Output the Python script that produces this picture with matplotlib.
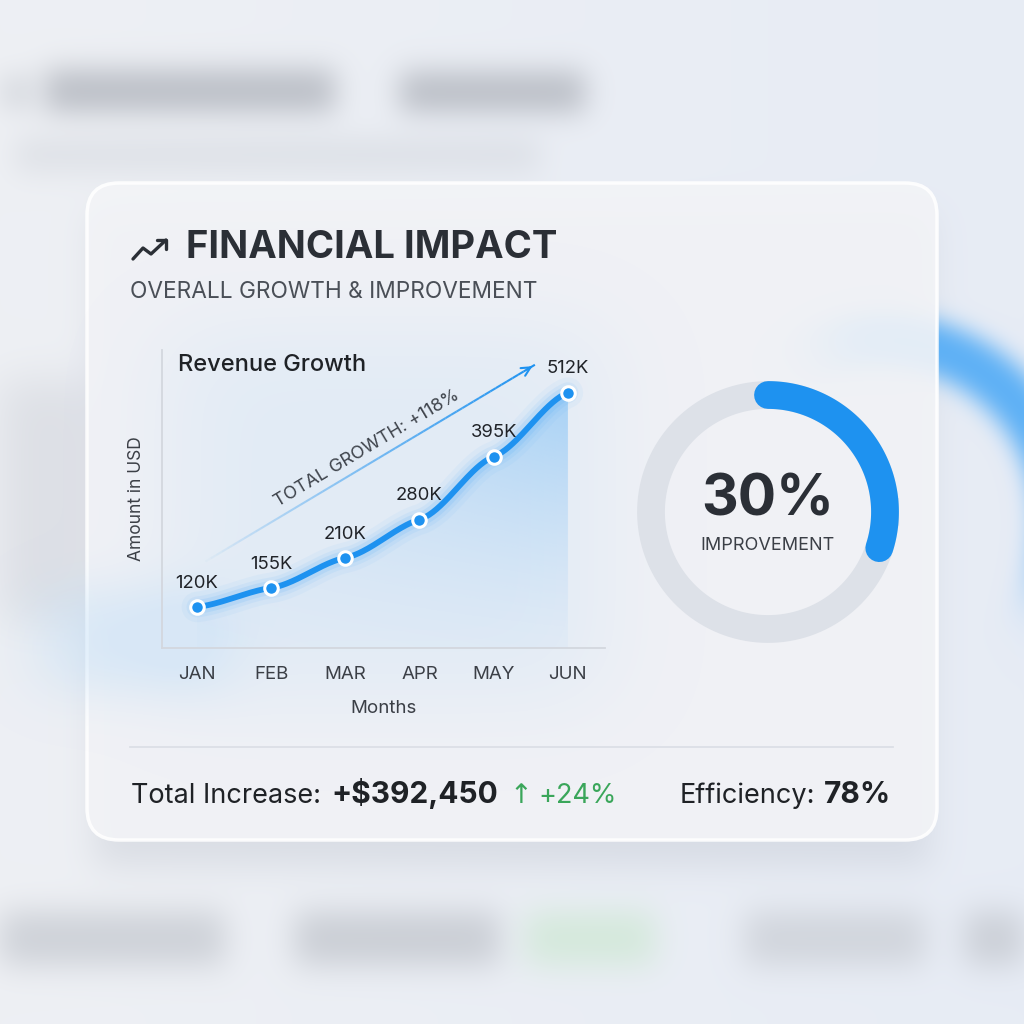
import math
import numpy as np
import matplotlib
matplotlib.use("Agg")
import matplotlib.pyplot as plt
from matplotlib.patches import FancyBboxPatch, Polygon
from matplotlib.collections import LineCollection
from matplotlib.colors import to_rgb

plt.rcParams['font.family'] = ['Inter', 'DejaVu Sans']

# ---- data ----
months = ["JAN", "FEB", "MAR", "APR", "MAY", "JUN"]
revenue_k = [120, 155, 210, 280, 395, 512]
point_labels = ["120K", "155K", "210K", "280K", "395K", "512K"]
growth_label = "TOTAL GROWTH: +118%"
improvement_pct = 30
total_increase = "+$392,450"
increase_pct = "+24%"
efficiency = "78%"

BLUE = "#1e92f0"
DARK = "#2b2f36"
GREEN = "#3aa65a"
W = H = 1024

fig = plt.figure(figsize=(10.24, 10.24), dpi=100)

# ---- blurred backdrop (pixel coordinates) ----
bg = fig.add_axes([0, 0, 1, 1], zorder=-10)
bg.set_xlim(0, W)
bg.set_ylim(H, 0)
bg.axis('off')

erf = np.vectorize(math.erf)
px = np.arange(W) + 0.5
py = np.arange(H) + 0.5


def band(c, a, b, s):
    return 0.5 * (erf((c - a) / s) - erf((c - b) / s))


img = np.zeros((H, W, 3))
top = np.array(to_rgb("#eef0f4"))
right = np.array(to_rgb("#e7ecf5"))
mix = np.clip(px / W, 0, 1)[None, :, None]
img[:] = top * (1 - mix) + right * mix


def blob(x0, x1, y0, y1, s, color, k):
    m = np.outer(band(py, y0, y1, s), band(px, x0, x1, s)) * k
    img[:] = img * (1 - m[..., None]) + np.array(to_rgb(color)) * m[..., None]


blob(45, 335, 70, 112, 20, "#b2b6be", 0.85)
blob(400, 585, 72, 112, 20, "#b2b6be", 0.85)
blob(0, 35, 75, 110, 18, "#c4c8cf", 0.5)
blob(15, 540, 138, 172, 20, "#cfd3da", 0.5)
blob(0, 95, 380, 620, 30, "#d0d3da", 0.55)
blob(0, 225, 912, 965, 22, "#c6cad1", 0.8)
blob(295, 500, 912, 965, 22, "#c2c6cd", 0.8)
blob(525, 655, 912, 965, 22, "#cfe8d5", 0.8)
blob(745, 925, 912, 965, 22, "#cbcfd6", 0.8)
blob(965, 1024, 912, 965, 22, "#c4c8cf", 0.8)
blob(95, 930, 215, 866, 24, "#aeb4c0", 0.3)

# blurred blue ring on the right, partly behind the card
cx, cy, r0 = 880, 520, 180
dx = px[None, :] - cx
dy = py[:, None] - cy
rr = np.sqrt(dx ** 2 + dy ** 2)
ring = 0.5 * (erf((rr - (r0 - 26)) / 16) - erf((rr - (r0 + 26)) / 16))
ang = np.degrees(np.arctan2(dy, dx))
ring *= 0.5 * (1 + erf((ang + 108) / 14)) * 0.5 * (1 - erf((ang - 18) / 16))
ring *= 0.85
img[:] = img * (1 - ring[..., None]) + np.array(to_rgb("#45a6f6")) * ring[..., None]

bg.imshow(img, extent=(0, W, H, 0), zorder=0, aspect='auto')

card = FancyBboxPatch((87, 183), 850, 657, boxstyle="round,pad=0,rounding_size=32",
                      fc="#f3f4f7", ec="white", lw=2.5, alpha=0.9, zorder=1)
bg.add_patch(card)

# frosted blue glow near the chart
glow = np.zeros((H, W, 4))
glow[..., :3] = to_rgb("#b9dbf8")
gm = np.outer(band(py, 590, 690, 35), band(px, 40, 220, 45))
gm += 0.6 * np.outer(band(py, 330, 700, 60), band(px, 170, 600, 70))
glow[..., 3] = np.clip(gm, 0, 1) * 0.42
bg.imshow(glow, extent=(0, W, H, 0), zorder=2, aspect='auto')

# header
ix = [133, 143, 151, 166]
iy = [259, 248, 254, 240]
bg.plot(ix, iy, color=DARK, lw=2.4, solid_capstyle='round', solid_joinstyle='round', zorder=3)
bg.plot([157, 166, 166], [240, 240, 249], color=DARK, lw=2.4,
        solid_capstyle='round', solid_joinstyle='round', zorder=3)
bg.text(186, 248, "FINANCIAL IMPACT", fontsize=27.5, fontweight='bold', color=DARK,
        va='center', ha='left', zorder=3)
bg.text(130, 292, "OVERALL GROWTH & IMPROVEMENT", fontsize=16.3, color="#4a4f57",
        va='center', ha='left', zorder=3)

bg.plot([130, 893], [747, 747], color="#dcdfe6", lw=1.3, zorder=3)

# ---- line chart ----
ax = fig.add_axes([162 / W, 1 - 648 / H, (605 - 162) / W, (648 - 350) / H], zorder=5)
ax.patch.set_alpha(0)
ax.set_xlim(-0.47, 5.5)
ax.set_ylim(45, 590)
for s in ['top', 'right']:
    ax.spines[s].set_visible(False)
for s in ['left', 'bottom']:
    ax.spines[s].set_color("#d3d7de")
    ax.spines[s].set_linewidth(1.3)
ax.set_xticks(range(len(months)), months)
ax.set_yticks([])
ax.tick_params(axis='x', length=0, pad=13, labelsize=13.5, labelcolor="#3b3f46")
ax.set_xlabel("Months", fontsize=13.5, color="#3b3f46", labelpad=12)
ax.set_ylabel("Amount in USD", fontsize=12.5, color="#3b3f46", labelpad=12)

x = np.arange(len(revenue_k), dtype=float)
y = np.array(revenue_k, dtype=float)
tang = np.gradient(y) * 0.45
xs, ys = [], []
for i in range(len(x) - 1):
    t = np.linspace(0, 1, 40)
    h00 = 2 * t**3 - 3 * t**2 + 1
    h10 = t**3 - 2 * t**2 + t
    h01 = -2 * t**3 + 3 * t**2
    h11 = t**3 - t**2
    xs.append(x[i] + t)
    ys.append(h00 * y[i] + h10 * tang[i] + h01 * y[i + 1] + h11 * tang[i + 1])
xs = np.concatenate(xs)
ys = np.concatenate(ys)

ylo = ax.get_ylim()[0]
poly = Polygon(np.column_stack([np.r_[xs, xs[-1], xs[0]], np.r_[ys, ylo, ylo]]),
               closed=True, fc='none', ec='none')
ax.add_patch(poly)
gy = np.linspace(1, 0, 200)[:, None]
gx = np.linspace(0, 1, 200)[None, :]
fill = np.zeros((200, 200, 4))
fill[..., :3] = to_rgb("#8cc6f6")
fill[..., 3] = np.clip((0.08 + 0.8 * gy ** 1.4) * (0.35 + 0.65 * gx), 0, 1) * 0.8
fi = ax.imshow(fill, extent=(xs[0], xs[-1], ylo, y.max()), aspect='auto', zorder=1)
fi.set_clip_path(poly)

for lw, a in [(22, 0.05), (15, 0.08), (10, 0.12)]:
    ax.plot(xs, ys, color="#3fa4f5", lw=lw, alpha=a, solid_capstyle='round', zorder=2)
ax.plot(xs, ys, color=BLUE, lw=4.2, solid_capstyle='round', zorder=3)
ax.scatter(x, y, s=95, c=BLUE, edgecolors='white', linewidths=2.2, zorder=4)
for xi, yi, lbl in zip(x, y, point_labels):
    ax.annotate(lbl, (xi, yi), xytext=(0, 11), textcoords='offset points',
                ha='center', va='bottom', fontsize=13.3, color="#202328", zorder=5)

ax.text(0.036, 0.95, "Revenue Growth", transform=ax.transAxes, fontsize=17,
        fontweight='medium', color="#1f2226", va='center', ha='left')

# growth arrow
a0 = np.array([0.04, 197.0])
a1 = np.array([4.555, 563.0])
n = 60
tt = np.linspace(0, 1, n + 1)
pts = a0[None, :] + tt[:, None] * (a1 - a0)[None, :]
segs = np.stack([pts[:-1], pts[1:]], axis=1)
cols = np.zeros((n, 4))
cols[:, :3] = to_rgb(BLUE)
cols[:, 3] = np.linspace(0.0, 1.0, n) ** 0.9
ax.add_collection(LineCollection(segs, colors=cols, linewidths=1.5, zorder=2))
ax.annotate("", xy=a1, xytext=a0 + 0.97 * (a1 - a0),
            arrowprops=dict(arrowstyle='->', color=BLUE, lw=1.5, mutation_scale=16))
d0 = ax.transData.transform(a0)
d1 = ax.transData.transform(a1)
ang = math.degrees(math.atan2(d1[1] - d0[1], d1[0] - d0[0]))
mid = a0 + 0.52 * (a1 - a0)
off = 4
ax.annotate(growth_label, mid, xytext=(-off * math.sin(math.radians(ang)), off * math.cos(math.radians(ang))),
            textcoords='offset points', rotation=ang, rotation_mode='anchor',
            ha='center', va='bottom', fontsize=13, color="#3e434b")

# ---- donut ----
dax = fig.add_axes([(768 - 150) / W, 1 - (512 + 150) / H, 300 / W, 300 / H], zorder=5)
dax.set_xlim(-150, 150)
dax.set_ylim(-150, 150)
dax.axis('off')
rad = 117
th = np.linspace(0, 2 * np.pi, 300)
dax.plot(rad * np.cos(th), rad * np.sin(th), color="#dde1e8", lw=20)
th2 = np.radians(np.linspace(90, 90 - 3.6 * improvement_pct, 120))
dax.plot(rad * np.cos(th2), rad * np.sin(th2), color=BLUE, lw=20, solid_capstyle='round')
dax.text(0, 12, f"{improvement_pct}%", fontsize=41, fontweight='bold', color=DARK,
         ha='center', va='center')
dax.text(0, -34, "IMPROVEMENT", fontsize=13, color="#3b3f46", ha='center', va='center')

# ---- bottom summary ----
rend = fig.canvas.get_renderer()
base_y = 803


def put(xp, txt, fs=19.5, **kw):
    t = bg.text(xp, base_y, txt, fontsize=fs, va='baseline', zorder=3, **kw)
    return t.get_window_extent(rend).width


cur = 131
cur += put(cur, "Total Increase:", color="#1f2226") + 10
cur += put(cur, total_increase, fs=21.5, color="#1f2226", fontweight='bold') + 12
cur += put(cur, "↑", color=GREEN, family=['DejaVu Sans']) + 6
put(cur, increase_pct, color=GREEN)

w78 = put(891, efficiency, fs=21.5, color="#1f2226", fontweight='bold', ha='right')
put(891 - w78 - 9, "Efficiency:", color="#1f2226", ha='right')

fig.savefig("out.png", dpi=100)
